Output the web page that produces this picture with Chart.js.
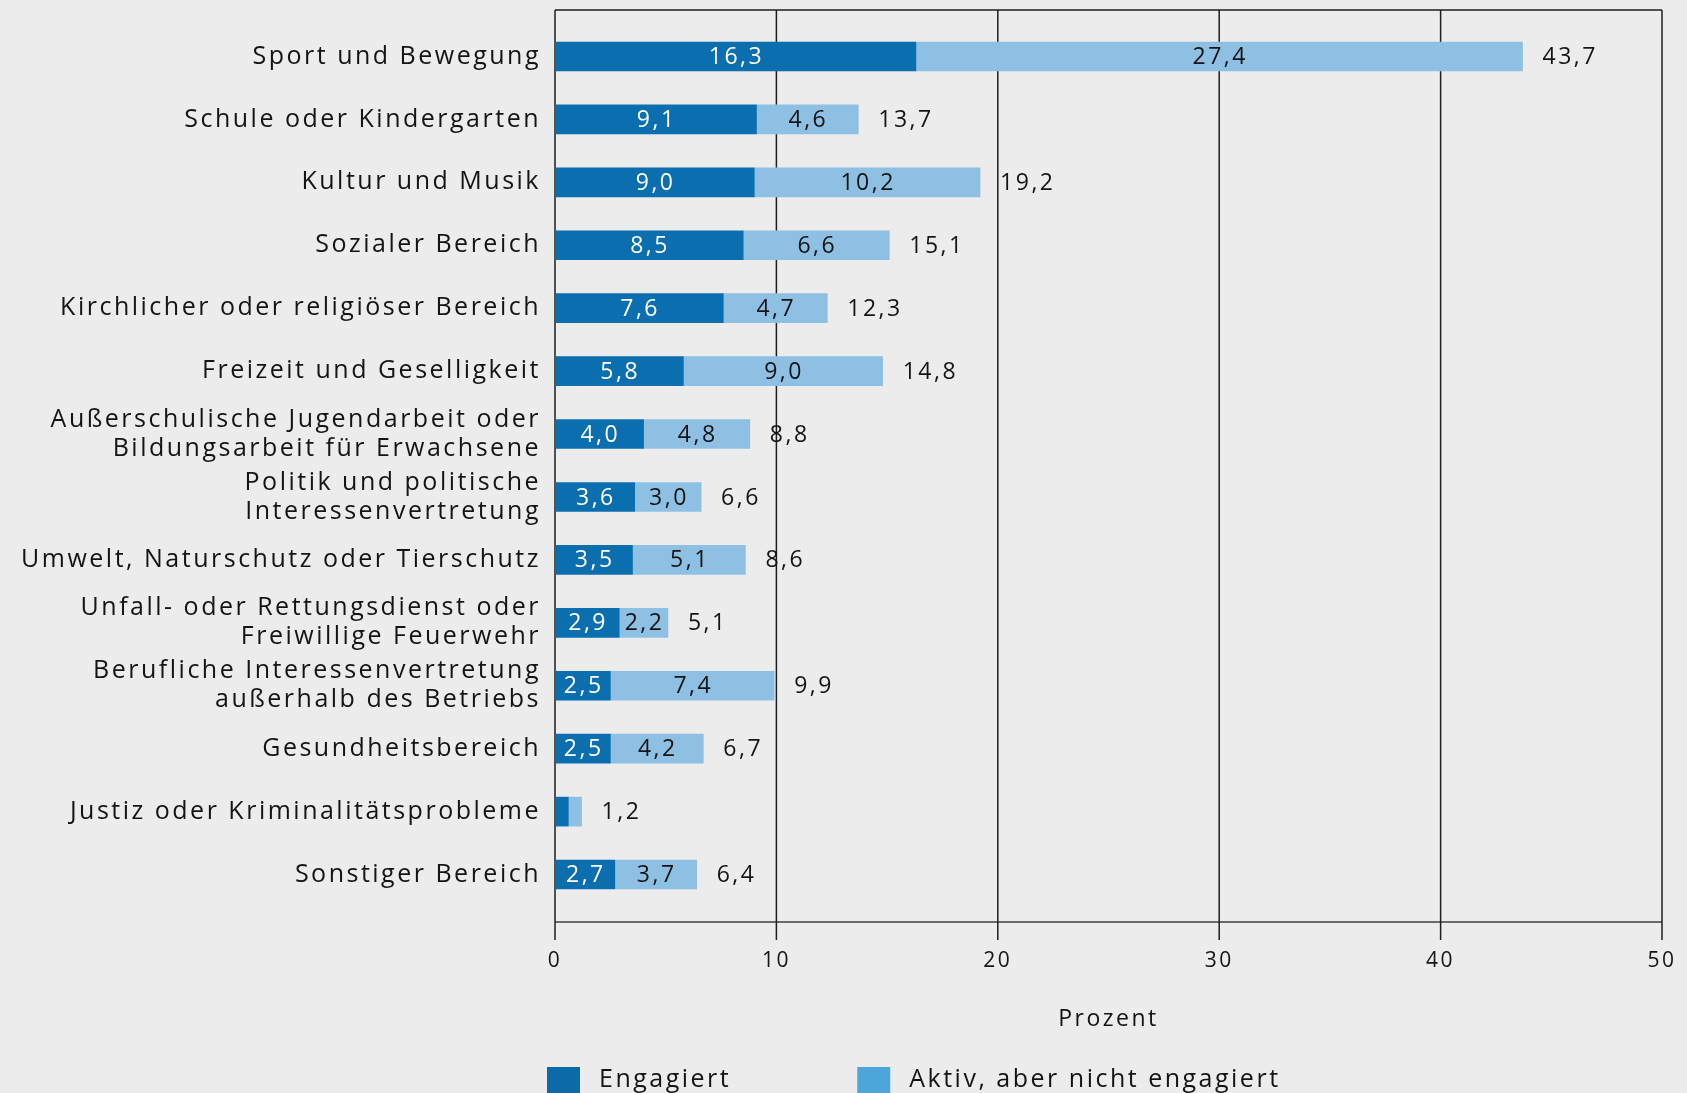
<!DOCTYPE html>
<html lang="de">
<head>
<meta charset="utf-8">
<title>Engagement nach Bereichen</title>
<script src="https://cdn.jsdelivr.net/npm/chart.js@4.4.1/dist/chart.umd.min.js"></script>
<style>
  html, body { margin: 0; padding: 0; background: #ececec; overflow: hidden; }
  #wrap { width: 1687px; height: 1093px; }
</style>
</head>
<body>
<div id="wrap"><canvas id="chart"></canvas></div>
<script>
const categories = [
  'Sport und Bewegung',
  'Schule oder Kindergarten',
  'Kultur und Musik',
  'Sozialer Bereich',
  'Kirchlicher oder religiöser Bereich',
  'Freizeit und Geselligkeit',
  ['Außerschulische Jugendarbeit oder', 'Bildungsarbeit für Erwachsene'],
  ['Politik und politische', 'Interessenvertretung'],
  'Umwelt, Naturschutz oder Tierschutz',
  ['Unfall- oder Rettungsdienst oder', 'Freiwillige Feuerwehr'],
  ['Berufliche Interessenvertretung', 'außerhalb des Betriebs'],
  'Gesundheitsbereich',
  'Justiz oder Kriminalitätsprobleme',
  'Sonstiger Bereich'
];
const engagiert = [16.3, 9.1, 9.0, 8.5, 7.6, 5.8, 4.0, 3.6, 3.5, 2.9, 2.5, 2.5, 0.6, 2.7];
const aktiv = [27.4, 4.6, 10.2, 6.6, 4.7, 9.0, 4.8, 3.0, 5.1, 2.2, 7.4, 4.2, 0.6, 3.7];
const gesamt = [43.7, 13.7, 19.2, 15.1, 12.3, 14.8, 8.8, 6.6, 8.6, 5.1, 9.9, 6.7, 1.2, 6.4];
const seriesNames = ['Engagiert', 'Aktiv, aber nicht engagiert'];
const barColors = ['#0b6eae', '#8ec0e4'];
const legendColors = ['#0c6aa8', '#4ca6da'];
const xMin = 0, xMax = 50, xStep = 10;

const FONT = "'Open Sans', sans-serif";
const fmt = v => v.toFixed(1).replace('.', ',');

// etwas Sperrung wie im Original
const spacing = {
  id: 'spacing',
  beforeUpdate(chart) { chart.ctx.letterSpacing = '2.5px'; },
  beforeDraw(chart) { chart.ctx.letterSpacing = '2.5px'; }
};

// Rahmen, Gitter und Achsenlinie
const frame = {
  id: 'frame',
  beforeDatasetsDraw(chart) {
    const { ctx, chartArea: a, scales: { x } } = chart;
    const top = a.top - 15, axisY = a.bottom + 16, tickEnd = axisY + 18;
    const x0 = x.getPixelForValue(xMin), x1 = x.getPixelForValue(xMax);
    ctx.save();
    ctx.strokeStyle = '#6a6a6a';
    ctx.lineWidth = 2;
    ctx.beginPath();
    ctx.moveTo(x0, axisY);
    ctx.lineTo(x1, axisY);
    ctx.stroke();
    ctx.strokeStyle = '#1e1e1e';
    ctx.lineWidth = 1.5;
    ctx.beginPath();
    x.ticks.forEach(t => {
      const px = x.getPixelForValue(t.value);
      ctx.moveTo(px, top);
      ctx.lineTo(px, tickEnd);
    });
    ctx.moveTo(x0, top);
    ctx.lineTo(x1, top);
    ctx.stroke();
    ctx.restore();
  }
};

// Werte in den Balken und Summen rechts daneben
const valueLabels = {
  id: 'valueLabels',
  afterDatasetsDraw(chart) {
    const { ctx, scales: { x } } = chart;
    ctx.save();
    ctx.font = '23px ' + FONT;
    ctx.textBaseline = 'middle';
    chart.data.datasets.forEach((ds, di) => {
      const meta = chart.getDatasetMeta(di);
      meta.data.forEach((bar, i) => {
        if (ds.data[i] < 1) return;
        ctx.fillStyle = di === 0 ? '#ffffff' : '#141414';
        ctx.textAlign = 'center';
        ctx.fillText(fmt(ds.data[i]), (bar.base + bar.x) / 2 + 1, bar.y + 1);
      });
    });
    const meta = chart.getDatasetMeta(1);
    ctx.fillStyle = '#141414';
    ctx.textAlign = 'left';
    gesamt.forEach((v, i) => {
      ctx.fillText(fmt(v), x.getPixelForValue(v) + 20, meta.data[i].y + 1);
    });
    ctx.restore();
  }
};

// Legende unten
const bottomLegend = {
  id: 'bottomLegend',
  afterDraw(chart) {
    const { ctx, scales: { x } } = chart;
    ctx.save();
    ctx.font = '25px ' + FONT;
    ctx.textBaseline = 'middle';
    ctx.textAlign = 'left';
    let px = x.left - 8;
    const y = 1067;
    seriesNames.forEach((name, i) => {
      ctx.fillStyle = legendColors[i];
      ctx.fillRect(px, y, 33, 26);
      ctx.fillStyle = '#141414';
      ctx.fillText(name, px + 52, y + 13);
      px += 52 + ctx.measureText(name).width + 126;
    });
    ctx.restore();
  }
};

Chart.defaults.font.family = FONT;
Chart.defaults.color = '#141414';

new Chart(document.getElementById('chart'), {
  type: 'bar',
  data: {
    labels: categories,
    datasets: [
      { label: seriesNames[0], data: engagiert, backgroundColor: barColors[0] },
      { label: seriesNames[1], data: aktiv, backgroundColor: barColors[1] }
    ]
  },
  options: {
    indexAxis: 'y',
    responsive: true,
    maintainAspectRatio: false,
    animation: false,
    layout: { padding: { top: 25, right: 25, bottom: 60, left: 0 } },
    datasets: { bar: { barThickness: 29 } },
    plugins: {
      legend: { display: false },
      tooltip: { enabled: false }
    },
    scales: {
      x: {
        stacked: true,
        min: xMin,
        max: xMax,
        grid: { display: false, drawTicks: false },
        border: { display: false },
        ticks: { stepSize: xStep, padding: 42, font: { size: 21 }, color: '#141414' },
        title: {
          display: true,
          text: 'Prozent',
          font: { size: 23 },
          color: '#141414',
          padding: { top: 10, bottom: 0 }
        },
        afterFit(scale) {
          scale.height = 127;
          scale.paddingLeft = 0;
          scale.paddingRight = 0;
        }
      },
      y: {
        stacked: true,
        grid: { display: false, drawTicks: false },
        border: { display: false },
        ticks: {
          padding: 14,
          font: { size: 25, lineHeight: 1.16 },
          color: '#141414',
          autoSkip: false
        },
        afterFit(scale) {
          scale.width = 555;
          scale.paddingTop = 0;
          scale.paddingBottom = 0;
        }
      }
    }
  },
  plugins: [spacing, frame, valueLabels, bottomLegend]
});
</script>
</body>
</html>
